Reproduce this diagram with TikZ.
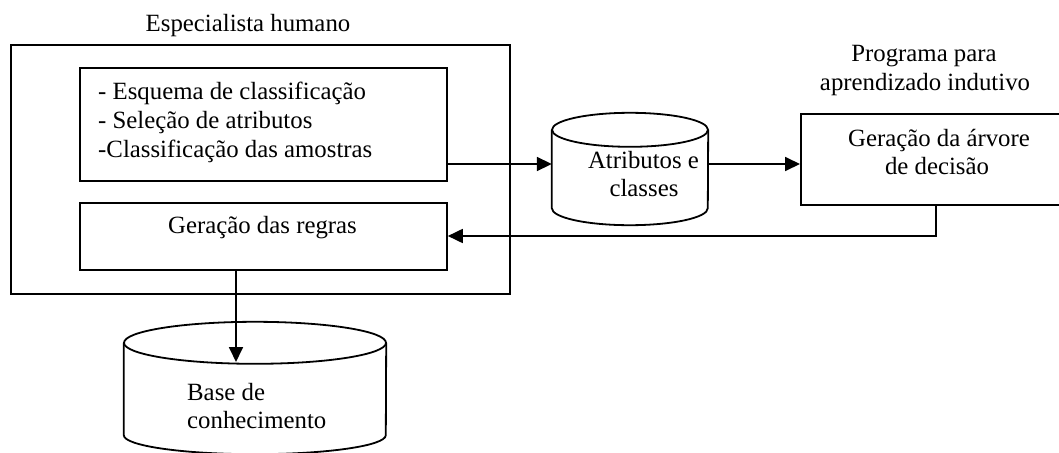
\documentclass[tikz,border=0pt]{standalone}
\usepackage{fontspec}
\setmainfont{Liberation Serif}
\usetikzlibrary{arrows.meta}

\tikzset{
  box/.style={draw, line width=1.8pt, rectangle, inner sep=0pt, anchor=north west},
  drum/.style={draw=none, rectangle, inner sep=0pt},
  txt/.style={inner sep=0pt, anchor=base, font=\fontsize{24.8}{28.5}\selectfont},
  txtl/.style={txt, anchor=base west},
  link/.style={line width=1.8pt, -{Triangle[length=15pt,width=14pt]}},
  line/.style={line width=1.8pt},
}

\begin{document}
\begin{tikzpicture}[x=1pt, y=-1pt]
  \useasboundingbox (0,0) rectangle (1059,452);
  \clip (0,0) rectangle (1059,452);
  \fill[white] (0,0) rectangle (1059,452);

  % human specialist group
  \node[txt] (spec) at (248,32) {Especialista humano};
  \node[box, minimum width=499pt, minimum height=249pt] (outer) at (10,44) {};
  \node[box, minimum width=367pt, minimum height=113pt] (prep) at (79,67) {};
  \node[txtl] (p1) at (98,99)  {- Esquema de classificação};
  \node[txtl] (p2) at (98,128) {- Seleção de atributos};
  \node[txtl] (p3) at (98,157) {-Classificação das amostras};
  \node[box, minimum width=367pt, minimum height=67pt] (rules) at (79,202) {};
  \node[txt] (r1) at (262.5,233) {Geração das regras};

  % attributes and classes store
  \node[drum, minimum width=156pt, minimum height=78pt] (attr) at (630,169) {};
  \draw[line, fill=white] (attr.north west) -- (attr.south west)
        arc[start angle=180, end angle=360, x radius=78pt, y radius=17pt]
        -- (attr.north east);
  \draw[line] (attr.north) ellipse[x radius=78pt, y radius=17pt];
  \node[txt] (a1) at (643.5,168) {Atributos e};
  \node[txt] (a2) at (644,196) {classes};

  % inductive learning program
  \node[txt] (g1) at (924,62) {Programa para};
  \node[txt] (g2) at (925,90) {aprendizado indutivo};
  \node[box, minimum width=265pt, minimum height=91pt] (tree) at (800,113) {};
  \node[txt] (t1) at (939,146) {Geração da árvore};
  \node[txt] (t2) at (937,174) {de decisão};

  % knowledge base store
  \node[drum, minimum width=262pt, minimum height=92pt] (kb) at (255,389) {};
  \draw[line] (kb.north west) -- (kb.south west)
        arc[start angle=180, end angle=360, x radius=131pt, y radius=19pt]
        -- (kb.north east);
  \draw[line] (kb.north) ellipse[x radius=131pt, y radius=21pt];
  \node[txtl] (k1) at (187,400) {Base de};
  \node[txtl] (k2) at (187,428) {conhecimento};

  % connectors
  \coordinate (flow) at (0,164);
  \coordinate (back) at (936,236);
  \coordinate (drop) at (236,362);
  \draw[link] (prep.east |- flow) -- (attr.west |- flow);
  \draw[link] (attr.east |- flow) -- (tree.west |- flow);
  \draw[link] (tree.south -| back) -- (back) -- (rules.east |- back);
  \draw[link] (rules.south -| drop) -- (drop);
\end{tikzpicture}
\end{document}
